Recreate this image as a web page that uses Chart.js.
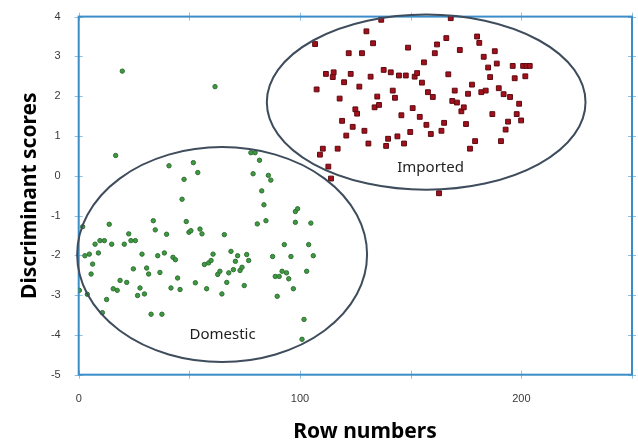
<!DOCTYPE html>
<html>
<head>
<meta charset="utf-8">
<script src="https://cdn.jsdelivr.net/npm/chart.js@4.4.1/dist/chart.umd.min.js"></script>
<style>
  html, body { margin: 0; padding: 0; background: #ffffff; }
  #wrap { width: 638px; height: 444px; }
</style>
</head>
<body>
<div id="wrap"><canvas id="c" width="638" height="444"></canvas></div>
<script>
// Discriminant scores by row number, domestic vs imported cars
const domesticRows = [
  1.8, 0.3, 3.9, 2.8, 4.8, 6.3, 5.6, 7.4, 8.9, 9.6, 11.6, 10.7, 12.6, 13.8, 14.9,
  15.6, 17.4, 18.7, 20.6, 21.7, 22.6, 23.6, 25.6, 24.7, 26.6, 27.7, 28.6, 29.7, 30.7,
  31.6, 32.7, 33.7, 34.6, 35.7, 36.7, 37.6, 38.7, 39.7, 41.7, 42.6, 43.7, 44.7, 45.8,
  48.6, 49.8, 50.7, 52.7, 54.8, 55.7, 56.8, 57.8, 58.7, 59.8, 60.7, 62.8, 63.8, 64.7,
  65.8, 66.9, 67.8, 68.8, 69.9, 70.8, 71.8, 72.9, 73.8, 74.8, 75.9, 76.8, 80.7, 83.7,
  84.6, 87.6, 88.8, 89.7, 90.6, 91.9, 92.9, 93.9, 94.9, 95.9, 97.0, 97.9, 98.9, 97.9,
  101.8, 100.9, 103.0, 103.9, 104.9, 106.0,
  19.7, 61.6, 16.7, 40.8, 51.8, 53.8, 47.6, 46.7, 77.8, 79.7, 81.7, 78.8, 85.7, 86.8, 82.7
];
const domesticScores = [
  -1.28, -2.88, -2.98, -2.01, -1.97, -2.22, -2.47, -1.72, -1.94, -1.63, -1.63, -3.44, -3.11, -1.22, -1.72,
  -2.84, -2.88, -2.63, -1.72, -2.68, -1.46, -1.63, -1.63, -2.34, -3.01, -2.82, -1.97, -2.97, -2.32,
  -2.47, -3.48, -1.13, -1.36, -2.01, -2.43, -3.48, -1.94, -1.47, -2.82, -2.05, -2.11, -2.57, -2.86,
  -1.15, -1.42, -1.38, -2.69, -1.34, -1.46, -2.23, -2.84, -2.19, -2.13, -1.97, -2.48, -2.40, -2.97,
  -1.48, -2.68, -2.44, -1.90, -2.36, -2.15, -2.01, -2.38, -2.30, -2.76, -1.98, -2.13, -1.21, -0.73,
  -1.13, -2.03, -2.53, -3.03, -2.53, -2.40, -1.73, -2.44, -2.59, -2.03, -2.84, -0.90, -0.83, -1.17,
  -3.61, -4.11, -2.40, -1.73, -1.19, -2.01,
  2.63, 2.24, 0.51, 0.25, 0.33, 0.08, -0.09, -0.59, 0.58, 0.58, 0.39, 0.05, 0.01, -0.11, -0.38
];
const importedRows = [
  106.8, 107.5, 109.0, 110.3, 112.8, 114.0, 111.7, 115.2, 114.8, 117.9, 117.0, 119.0, 119.9,
  120.9, 122.0, 122.9, 123.8, 125.0, 125.8, 126.8, 128.0, 129.1, 130.0, 130.9, 131.9, 133.0,
  133.7, 134.9, 135.7, 136.7, 137.8, 138.9, 139.8, 141.0, 141.9, 142.9, 144.0, 144.7, 145.8,
  147.0, 147.8, 148.8, 149.8, 150.9, 151.8, 152.9, 154.1, 155.1, 156.0, 157.1, 157.8, 159.1,
  160.0, 160.9, 161.9, 162.8, 163.9, 165.1, 166.1, 167.0, 168.1, 168.8, 169.9, 170.9, 172.2,
  172.9, 174.0, 175.0, 175.9, 176.8, 177.7, 179.1, 180.0, 181.0, 181.9, 183.0, 183.9, 185.0,
  185.9, 186.9, 188.0, 188.9, 189.8, 190.8, 192.0, 192.9, 194.0, 194.9, 196.1, 197.0, 197.9,
  199.0, 199.9, 200.8, 201.8, 202.3, 203.8
];
const importedScores = [
  3.31, 2.17, 0.53, 0.68, 0.23, -0.07, 2.56, 2.60, 2.48, 1.94, 0.68, 1.38, 2.35,
  1.01, 3.08, 2.56, 1.23, 1.67, 1.56, 2.24, 3.08, 1.13, 3.63, 0.81, 2.49, 3.33,
  1.72, 1.99, 1.78, 3.92, 2.66, 0.75, 0.93, 2.60, 2.14, 1.96, 0.99, 2.52, 1.52,
  0.81, 2.52, 3.22, 1.10, 1.70, 2.49, 2.58, 1.48, 2.34, 2.85, 1.28, 2.10, 1.05,
  1.98, 3.08, 3.30, -0.44, 1.13, 1.33, 3.46, 2.55, 3.96, 1.88, 2.14, 1.84, 3.16,
  1.62, 1.72, 1.30, 2.06, 0.68, 2.29, 0.87, 3.50, 3.34, 2.10, 2.99, 2.14, 2.72,
  2.48, 1.55, 3.13, 2.82, 2.20, 0.87, 2.05, 1.16, 1.36, 1.98, 2.76, 2.45, 1.55,
  1.81, 1.39, 2.76, 2.50, 2.76, 2.76
];
const groupNames = ['Domestic', 'Imported'];
const xTickLabels = [0, 100, 200];
const yTickLabels = [-5, -4, -3, -2, -1, 0, 1, 2, 3, 4];
const xTitle = 'Row numbers';
const yTitle = 'Discriminant scores';

// group outlines (data units): centre row, centre score, half width, half height
const outlines = [
  { label: groupNames[0], cx: 64.8, cy: -1.98, rx: 65.5, ry: 2.70, tx: 65.0, ty: -4.0 },
  { label: groupNames[1], cx: 157.0, cy: 1.85, rx: 72.0, ry: 2.20, tx: 159.0, ty: 0.2 }
];

const toPoints = (xs, ys) => xs.map((x, i) => ({ x: x, y: ys[i] }));

const framePlugin = {
  id: 'frame',
  beforeDatasetsDraw(chart) {
    const { ctx, chartArea: a, scales } = chart;
    ctx.save();
    // small crossing tick marks on all four sides
    ctx.strokeStyle = '#8fc1e2';
    ctx.lineWidth = 1;
    ctx.beginPath();
    for (let v = -5; v <= 4; v++) {
      const y = Math.round(scales.y.getPixelForValue(v)) + 0.5;
      ctx.moveTo(a.left - 4, y); ctx.lineTo(a.left + 4, y);
      ctx.moveTo(a.right - 4, y); ctx.lineTo(a.right + 4, y);
    }
    for (let v = 0; v <= 250; v += 50) {
      const x = Math.round(scales.x.getPixelForValue(v)) + 0.5;
      ctx.moveTo(x, a.top - 4); ctx.lineTo(x, a.top + 4);
      ctx.moveTo(x, a.bottom - 4); ctx.lineTo(x, a.bottom + 4);
    }
    ctx.stroke();
    // plot frame
    ctx.strokeStyle = '#3a8dc8';
    ctx.lineWidth = 2;
    ctx.strokeRect(a.left, a.top, a.right - a.left, a.bottom - a.top);
    ctx.restore();
  },
  afterDatasetsDraw(chart) {
    const { ctx, scales } = chart;
    ctx.save();
    outlines.forEach(o => {
      const cx = scales.x.getPixelForValue(o.cx);
      const cy = scales.y.getPixelForValue(o.cy);
      const rx = Math.abs(scales.x.getPixelForValue(o.cx + o.rx) - cx);
      const ry = Math.abs(scales.y.getPixelForValue(o.cy + o.ry) - cy);
      ctx.beginPath();
      ctx.ellipse(cx, cy, rx, ry, 0, 0, Math.PI * 2);
      ctx.strokeStyle = '#3e4c5c';
      ctx.lineWidth = 2;
      ctx.stroke();
      ctx.fillStyle = '#1e1e1e';
      ctx.font = '15px "Noto Sans", sans-serif';
      ctx.textAlign = 'center';
      ctx.textBaseline = 'middle';
      ctx.fillText(o.label, scales.x.getPixelForValue(o.tx), scales.y.getPixelForValue(o.ty));
    });
    // horizontal axis title, set a little right of the plot centre
    ctx.fillStyle = '#000000';
    ctx.font = 'bold 21px "Noto Sans", sans-serif';
    ctx.textAlign = 'center';
    ctx.textBaseline = 'middle';
    ctx.fillText(xTitle, 365, 432);
    ctx.restore();
  }
};

new Chart(document.getElementById('c'), {
  type: 'scatter',
  data: {
    datasets: [
      {
        label: groupNames[0],
        data: toPoints(domesticRows, domesticScores),
        pointStyle: 'circle',
        pointRadius: 2.2,
        backgroundColor: '#3f9a3f',
        borderColor: '#2f6f35',
        borderWidth: 1
      },
      {
        label: groupNames[1],
        data: toPoints(importedRows, importedScores),
        pointStyle: 'rect',
        pointRadius: 3.4,
        backgroundColor: '#a3101c',
        borderColor: '#5c0a10',
        borderWidth: 1
      }
    ]
  },
  options: {
    responsive: false,
    devicePixelRatio: 1,
    animation: false,
    events: [],
    layout: { padding: { top: 14, right: 6, left: 0, bottom: 0 } },
    plugins: { legend: { display: false }, tooltip: { enabled: false } },
    scales: {
      x: {
        type: 'linear',
        min: 0, max: 250,
        grid: { display: false },
        border: { display: false },
        afterFit(s) { s.height = 69.3; },
        afterBuildTicks(s) {
          s.ticks = xTickLabels.map(v => ({ value: v }));
        },
        ticks: {
          padding: 10,
          maxRotation: 0,
          color: '#3a3a3a',
          font: { family: '"Liberation Sans", sans-serif', size: 11 }
        },
        title: { display: false }
      },
      y: {
        type: 'linear',
        min: -5, max: 4,
        grid: { display: false },
        border: { display: false },
        afterFit(s) { s.width = 78.7; },
        afterBuildTicks(s) {
          s.ticks = yTickLabels.map(v => ({ value: v }));
        },
        ticks: {
          padding: 10,
          color: '#3a3a3a',
          font: { family: '"Liberation Sans", sans-serif', size: 11 }
        },
        title: {
          display: true,
          text: yTitle,
          color: '#000000',
          font: { family: '"Noto Sans", sans-serif', size: 21, weight: 'bold', lineHeight: 1.2 },
          padding: { top: 17, bottom: 0 }
        }
      }
    }
  },
  plugins: [framePlugin]
});
</script>
</body>
</html>
